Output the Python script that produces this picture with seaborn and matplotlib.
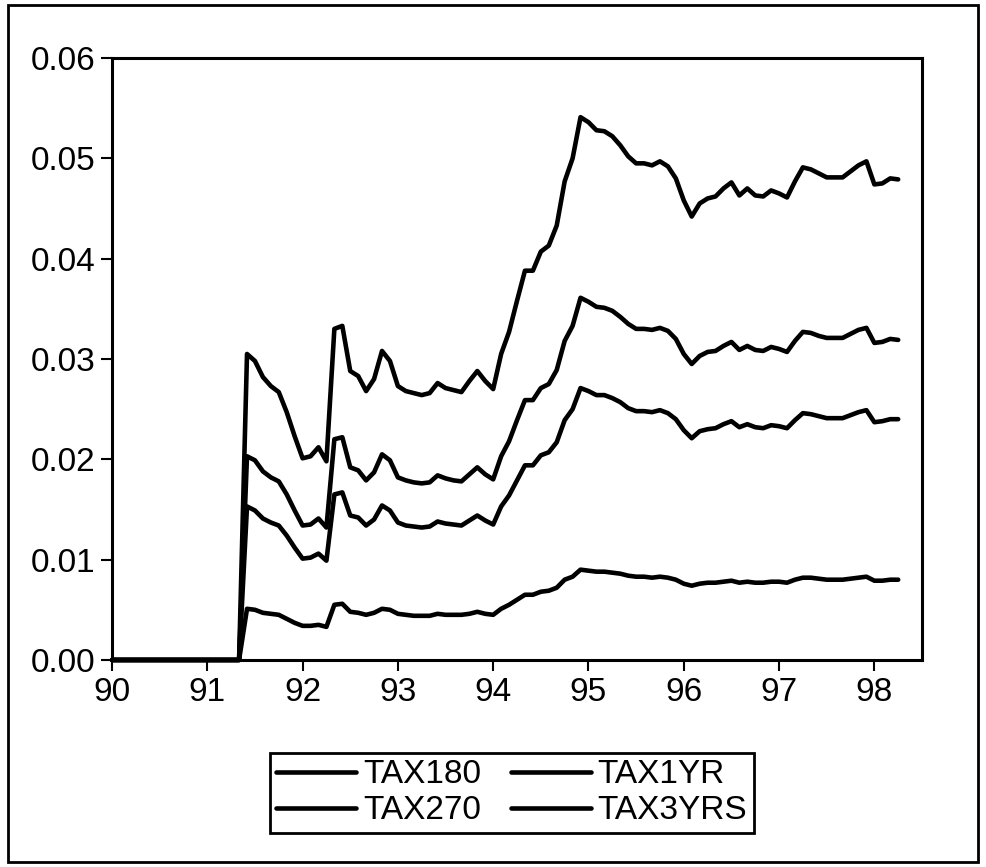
import matplotlib
matplotlib.use("Agg")
import matplotlib.pyplot as plt
from matplotlib.patches import Rectangle
import pandas as pd
import seaborn as sns

sns.set_style("ticks")
plt.rcParams['font.family'] = ['Liberation Sans', 'DejaVu Sans']
plt.rcParams['text.color'] = 'black'

# monthly 1990M01 - 1998M04, nothing until the tax starts in 1991M06
months = pd.period_range("1990-01", "1998-04", freq="M")
zeros = [0.0] * 17

tax3yrs = zeros + [
    0.0305, 0.0298, 0.0282, 0.0273, 0.0267, 0.0247, 0.0223,
    0.0201, 0.0203, 0.0212, 0.0198, 0.0330, 0.0333, 0.0288, 0.0283, 0.0268, 0.0280, 0.0308, 0.0298,
    0.0273, 0.0268, 0.0266, 0.0264, 0.0266, 0.0276, 0.0271, 0.0269, 0.0267, 0.0278, 0.0288, 0.0278,
    0.0270, 0.0305, 0.0327, 0.0358, 0.0388, 0.0388, 0.0407, 0.0413, 0.0433, 0.0477, 0.0500, 0.0541,
    0.0536, 0.0528, 0.0527, 0.0522, 0.0513, 0.0502, 0.0495, 0.0495, 0.0493, 0.0497, 0.0492, 0.0480,
    0.0458, 0.0442, 0.0455, 0.0460, 0.0462, 0.0470, 0.0476, 0.0463, 0.0470, 0.0463, 0.0462, 0.0468,
    0.0465, 0.0461, 0.0477, 0.0491, 0.0489, 0.0485, 0.0481, 0.0481, 0.0481, 0.0487, 0.0493, 0.0497,
    0.0474, 0.0475, 0.0480, 0.0479,
]
tax1yr = zeros + [
    0.0203, 0.0199, 0.0188, 0.0182, 0.0178, 0.0165, 0.0149,
    0.0134, 0.0135, 0.0141, 0.0132, 0.0220, 0.0222, 0.0192, 0.0189, 0.0179, 0.0187, 0.0205, 0.0199,
    0.0182, 0.0179, 0.0177, 0.0176, 0.0177, 0.0184, 0.0181, 0.0179, 0.0178, 0.0185, 0.0192, 0.0185,
    0.0180, 0.0203, 0.0218, 0.0239, 0.0259, 0.0259, 0.0271, 0.0275, 0.0289, 0.0318, 0.0333, 0.0361,
    0.0357, 0.0352, 0.0351, 0.0348, 0.0342, 0.0335, 0.0330, 0.0330, 0.0329, 0.0331, 0.0328, 0.0320,
    0.0305, 0.0295, 0.0303, 0.0307, 0.0308, 0.0313, 0.0317, 0.0309, 0.0313, 0.0309, 0.0308, 0.0312,
    0.0310, 0.0307, 0.0318, 0.0327, 0.0326, 0.0323, 0.0321, 0.0321, 0.0321, 0.0325, 0.0329, 0.0331,
    0.0316, 0.0317, 0.0320, 0.0319,
]
tax270 = zeros + [
    0.0153, 0.0149, 0.0141, 0.0137, 0.0134, 0.0124, 0.0112,
    0.0101, 0.0102, 0.0106, 0.0099, 0.0165, 0.0167, 0.0144, 0.0142, 0.0134, 0.0140, 0.0154, 0.0149,
    0.0137, 0.0134, 0.0133, 0.0132, 0.0133, 0.0138, 0.0136, 0.0135, 0.0134, 0.0139, 0.0144, 0.0139,
    0.0135, 0.0153, 0.0164, 0.0179, 0.0194, 0.0194, 0.0204, 0.0207, 0.0217, 0.0239, 0.0250, 0.0271,
    0.0268, 0.0264, 0.0264, 0.0261, 0.0257, 0.0251, 0.0248, 0.0248, 0.0247, 0.0249, 0.0246, 0.0240,
    0.0229, 0.0221, 0.0228, 0.0230, 0.0231, 0.0235, 0.0238, 0.0232, 0.0235, 0.0232, 0.0231, 0.0234,
    0.0233, 0.0231, 0.0239, 0.0246, 0.0245, 0.0243, 0.0241, 0.0241, 0.0241, 0.0244, 0.0247, 0.0249,
    0.0237, 0.0238, 0.0240, 0.0240,
]
tax180 = zeros + [
    0.0051, 0.0050, 0.0047, 0.0046, 0.0045, 0.0041, 0.0037,
    0.0034, 0.0034, 0.0035, 0.0033, 0.0055, 0.0056, 0.0048, 0.0047, 0.0045, 0.0047, 0.0051, 0.0050,
    0.0046, 0.0045, 0.0044, 0.0044, 0.0044, 0.0046, 0.0045, 0.0045, 0.0045, 0.0046, 0.0048, 0.0046,
    0.0045, 0.0051, 0.0055, 0.0060, 0.0065, 0.0065, 0.0068, 0.0069, 0.0072, 0.0080, 0.0083, 0.0090,
    0.0089, 0.0088, 0.0088, 0.0087, 0.0086, 0.0084, 0.0083, 0.0083, 0.0082, 0.0083, 0.0082, 0.0080,
    0.0076, 0.0074, 0.0076, 0.0077, 0.0077, 0.0078, 0.0079, 0.0077, 0.0078, 0.0077, 0.0077, 0.0078,
    0.0078, 0.0077, 0.0080, 0.0082, 0.0082, 0.0081, 0.0080, 0.0080, 0.0080, 0.0081, 0.0082, 0.0083,
    0.0079, 0.0079, 0.0080, 0.0080,
]

names = ["TAX180", "TAX1YR", "TAX270", "TAX3YRS"]
t = months.year - 1900 + (months.month - 1) / 12

df = pd.DataFrame({"t": t, "TAX180": tax180, "TAX1YR": tax1yr,
                   "TAX270": tax270, "TAX3YRS": tax3yrs})
long = df.melt(id_vars="t", var_name="series", value_name="value")

fig = plt.figure(figsize=(9.86, 8.67), dpi=100)
ax = fig.add_axes([0.1136, 0.2388, 0.8215, 0.6943])

sns.lineplot(data=long, x="t", y="value", hue="series", hue_order=names,
             palette={n: "black" for n in names}, linewidth=3.3, ax=ax)
for line in ax.get_lines():
    line.set_clip_on(False)

ax.set_xlim(90, 98.5)
ax.set_ylim(0, 0.06)
ax.set_xticks(range(90, 99))
ax.set_xticklabels([str(y) for y in range(90, 99)])
ax.set_yticks([0, 0.01, 0.02, 0.03, 0.04, 0.05, 0.06])
ax.set_yticklabels([f"{v:.2f}" for v in [0, 0.01, 0.02, 0.03, 0.04, 0.05, 0.06]])
ax.set_xlabel("")
ax.set_ylabel("")
ax.tick_params(labelsize=24, length=8, width=1.5, color="black", labelcolor="black", pad=4)
for s in ax.spines.values():
    s.set_visible(True)
    s.set_linewidth(2.2)
    s.set_color("black")

handles, labels = ax.get_legend_handles_labels()
ax.get_legend().remove()
lookup = dict(zip(labels, handles))
order = ["TAX180", "TAX270", "TAX1YR", "TAX3YRS"]
leg = fig.legend([lookup[n] for n in order], order, ncol=2,
                 loc="center", bbox_to_anchor=(0.519, 0.0854),
                 fontsize=24, frameon=True, fancybox=False, framealpha=1,
                 edgecolor="black", labelcolor="black",
                 handlelength=2.4, handletextpad=0.2,
                 columnspacing=0.9, labelspacing=0.15, borderpad=0.2)
leg.get_frame().set_linewidth(2)

fig.patches.append(Rectangle((0.008, 0.006), 0.984, 0.988, transform=fig.transFigure,
                             fill=False, edgecolor="black", linewidth=2))

fig.savefig("out.png", dpi=100, facecolor="white")
